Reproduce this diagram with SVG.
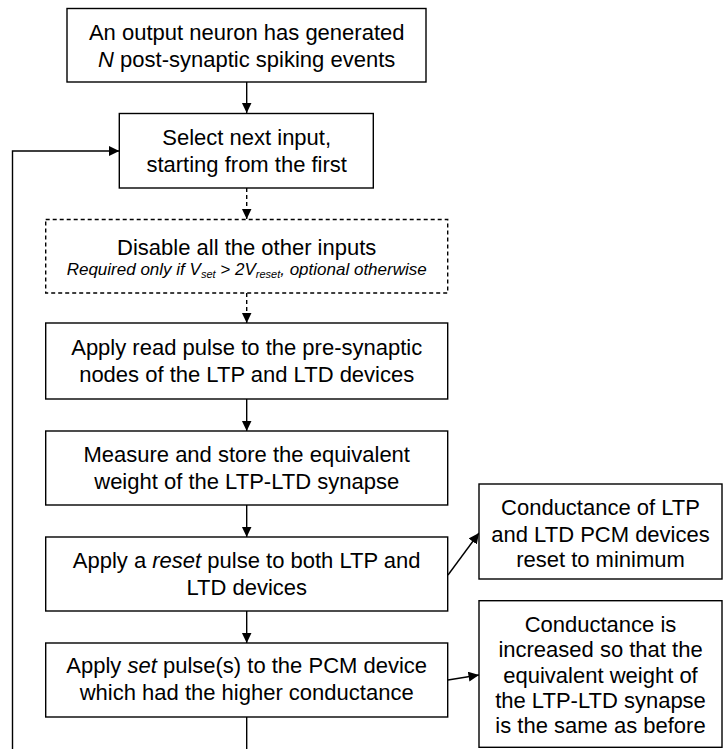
<svg xmlns="http://www.w3.org/2000/svg" width="724" height="749" viewBox="0 0 724 749">
<style>
.b{fill:#fff;stroke:#000;stroke-width:1.4}
.d{fill:#fff;stroke:#000;stroke-width:1.4;stroke-dasharray:4 3}
.t{font-family:"Liberation Sans",Arial,sans-serif;font-size:22px;fill:#000;text-anchor:middle}
.s{font-family:"Liberation Sans",Arial,sans-serif;font-size:17px;font-style:italic;fill:#000;text-anchor:middle}
.c{fill:none;stroke:#000;stroke-width:1.4}
.cd{fill:none;stroke:#000;stroke-width:1.4;stroke-dasharray:4 3}
</style>
<defs>
<marker id="ah" markerWidth="11" markerHeight="11" refX="10.5" refY="5" orient="auto" markerUnits="userSpaceOnUse">
<path d="M0,0 L10.5,5 L0,10 Z" fill="#000"/>
</marker>
</defs>
<rect width="724" height="749" fill="#fff"/>
<g id="connectors">
<line class="c" x1="246.7" y1="82" x2="246.7" y2="113" marker-end="url(#ah)"/>
<line class="cd" x1="246.7" y1="188" x2="246.7" y2="219" marker-end="url(#ah)"/>
<line class="cd" x1="246.7" y1="293" x2="246.7" y2="323" marker-end="url(#ah)"/>
<line class="c" x1="246.7" y1="399" x2="246.7" y2="431" marker-end="url(#ah)"/>
<line class="c" x1="246.7" y1="505" x2="246.7" y2="537" marker-end="url(#ah)"/>
<line class="c" x1="246.7" y1="611" x2="246.7" y2="643" marker-end="url(#ah)"/>
<line class="c" x1="246.7" y1="717" x2="246.7" y2="749"/>
<polyline class="c" points="12.5,749 12.5,151 119.3,151" marker-end="url(#ah)"/>
<line class="c" x1="448" y1="575" x2="479" y2="533" marker-end="url(#ah)"/>
<line class="c" x1="448" y1="680" x2="479" y2="675" marker-end="url(#ah)"/>
</g>
<g id="n1">
<rect class="b" x="67" y="8.5" width="359" height="73.5"/>
<text class="t" x="246.7" y="40">An output neuron has generated</text>
<text class="t" x="246.7" y="66.7"><tspan font-style="italic">N</tspan> post-synaptic spiking events</text>
</g>
<g id="n2">
<rect class="b" x="119.3" y="113.5" width="254" height="74.5"/>
<text class="t" x="246.7" y="145">Select next input,</text>
<text class="t" x="246.7" y="171.7">starting from the first</text>
</g>
<g id="n3">
<rect class="d" x="45.7" y="219.5" width="402" height="73.5"/>
<text class="t" x="246.7" y="255">Disable all the other inputs</text>
<text class="s" x="246.7" y="275">Required only if V<tspan font-size="11" dy="3">set</tspan><tspan dy="-3"> &gt; 2V</tspan><tspan font-size="11" dy="3">reset</tspan><tspan dy="-3">, optional otherwise</tspan></text>
</g>
<g id="n4">
<rect class="b" x="45.7" y="323" width="402" height="76"/>
<text class="t" x="246.7" y="355">Apply read pulse to the pre-synaptic</text>
<text class="t" x="246.7" y="381.7">nodes of the LTP and LTD devices</text>
</g>
<g id="n5">
<rect class="b" x="45.7" y="431" width="402" height="74"/>
<text class="t" x="246.7" y="462">Measure and store the equivalent</text>
<text class="t" x="246.7" y="489">weight of the LTP-LTD synapse</text>
</g>
<g id="n6">
<rect class="b" x="45.7" y="537" width="402" height="74"/>
<text class="t" x="246.7" y="568.3">Apply a <tspan font-style="italic">reset</tspan> pulse to both LTP and</text>
<text class="t" x="246.7" y="595">LTD devices</text>
</g>
<g id="n7">
<rect class="b" x="45.7" y="643" width="402" height="74"/>
<text class="t" x="246.7" y="673.3">Apply <tspan font-style="italic">set</tspan> pulse(s) to the PCM device</text>
<text class="t" x="246.7" y="700">which had the higher conductance</text>
</g>
<g id="nA">
<rect class="b" x="479" y="484" width="243" height="95"/>
<text class="t" x="600.5" y="515">Conductance of LTP</text>
<text class="t" x="600.5" y="541.7">and LTD PCM devices</text>
<text class="t" x="600.5" y="567">reset to minimum</text>
</g>
<g id="nB">
<rect class="b" x="479" y="600.7" width="243" height="146.6"/>
<text class="t" x="600.5" y="632">Conductance is</text>
<text class="t" x="600.5" y="657">increased so that the</text>
<text class="t" x="600.5" y="683">equivalent weight of</text>
<text class="t" x="600.5" y="708">the LTP-LTD synapse</text>
<text class="t" x="600.5" y="733">is the same as before</text>
</g>
</svg>
